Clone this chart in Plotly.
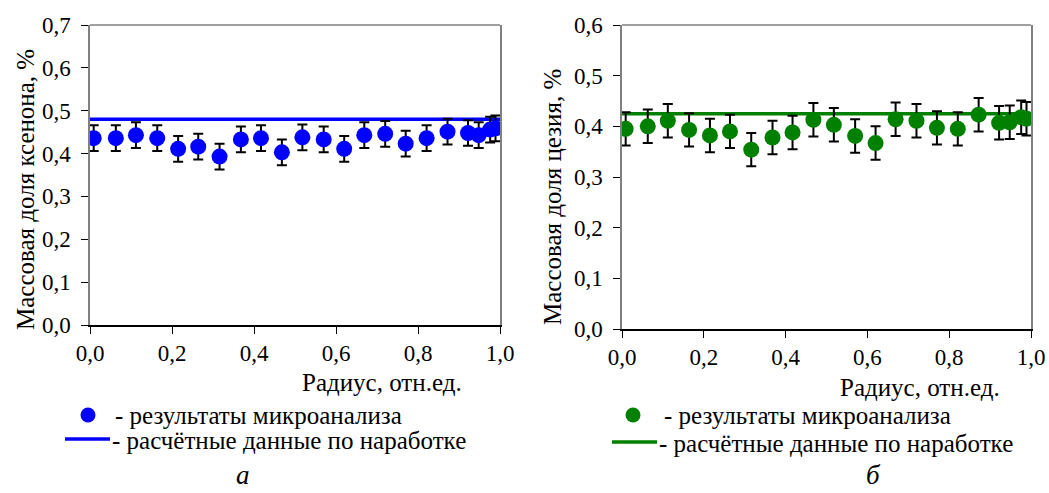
import plotly.graph_objects as go

# Radial positions of the measurement points (relative radius)
radius = [0.009, 0.063, 0.112, 0.164, 0.215, 0.264, 0.316, 0.368, 0.417, 0.468, 0.518,
          0.570, 0.620, 0.669, 0.720, 0.770, 0.821, 0.872, 0.922, 0.948, 0.976, 0.989]

# Xenon mass fraction, %
xenon_measured = [0.436, 0.436, 0.443, 0.436, 0.411, 0.416, 0.393, 0.433, 0.436, 0.403, 0.438,
                  0.433, 0.411, 0.443, 0.446, 0.423, 0.436, 0.451, 0.448, 0.443, 0.456, 0.459]
xenon_error = 0.03
xenon_calc = 0.48

# Caesium mass fraction, %
cesium_measured = [0.395, 0.400, 0.411, 0.393, 0.382, 0.390, 0.354, 0.378, 0.388, 0.413, 0.403,
                   0.381, 0.367, 0.414, 0.411, 0.397, 0.395, 0.423, 0.407, 0.408, 0.418, 0.415]
cesium_error = 0.033
cesium_calc = 0.425

calc_x = [0.0, 1.0]

W, H = 1049, 493
FONT = "Liberation Serif"
BLUE = "#0000FF"
GREEN = "#008000"
FRAME = "#808080"


def px(x):
    return x / W


def py(y):
    return 1 - y / H


fig = go.Figure()

# Panel a: xenon
fig.add_trace(go.Scatter(x=calc_x, y=[xenon_calc, xenon_calc], mode="lines",
                         line=dict(color=BLUE, width=3.5), xaxis="x", yaxis="y",
                         showlegend=False, hoverinfo="skip"))
fig.add_trace(go.Scatter(x=radius, y=xenon_measured, mode="markers",
                         marker=dict(color=BLUE, size=16),
                         error_y=dict(type="constant", value=xenon_error, color="black",
                                      thickness=2, width=5),
                         xaxis="x", yaxis="y", showlegend=False))

# Panel б: caesium
fig.add_trace(go.Scatter(x=calc_x, y=[cesium_calc, cesium_calc], mode="lines",
                         line=dict(color=GREEN, width=3.5), xaxis="x2", yaxis="y2",
                         showlegend=False, hoverinfo="skip"))
fig.add_trace(go.Scatter(x=radius, y=cesium_measured, mode="markers",
                         marker=dict(color=GREEN, size=16),
                         error_y=dict(type="constant", value=cesium_error, color="black",
                                      thickness=2, width=5),
                         xaxis="x2", yaxis="y2", showlegend=False))

tick_font = dict(family=FONT, size=23, color="black")

xaxis_common = dict(range=[0, 1], dtick=0.2, tickformat=".1f", showgrid=False, zeroline=False,
                    showline=True, linecolor="black", linewidth=1.5, ticks="outside",
                    ticklen=7, tickcolor="black", tickwidth=1.2, tickfont=tick_font,
                    automargin=False, fixedrange=True)
yaxis_common = dict(dtick=0.1, tickformat=".1f", showgrid=False, zeroline=False,
                    showline=True, linecolor=FRAME, linewidth=1.5, mirror=True,
                    ticks="outside", ticklen=7, tickcolor="black", tickwidth=1.2,
                    tickfont=tick_font, ticklabelstandoff=6, automargin=False,
                    fixedrange=True)

fig.update_layout(
    width=W, height=H, autosize=False,
    margin=dict(l=0, r=0, t=0, b=0, pad=0, autoexpand=False),
    paper_bgcolor="white", plot_bgcolor="white",
    separators=", ",
    showlegend=False,
    font=dict(family=FONT, color="black"),
    xaxis=dict(domain=[px(90), px(500)], anchor="y", **xaxis_common),
    yaxis=dict(domain=[py(325), py(25)], anchor="x", range=[0, 0.7], **yaxis_common),
    xaxis2=dict(domain=[px(622), px(1031)], anchor="y2", **xaxis_common),
    yaxis2=dict(domain=[py(329), py(25)], anchor="x2", range=[0, 0.6], **yaxis_common),
)

# Grey top border of each panel
for xr, yr in (("x domain", "y domain"), ("x2 domain", "y2 domain")):
    fig.add_shape(type="line", xref=xr, yref=yr, x0=0, x1=1, y0=1, y1=1,
                  line=dict(color=FRAME, width=1.5))


def label(x, y, text, size=25, angle=0, xanchor="center", yanchor="middle", italic=False):
    t = f"<i>{text}</i>" if italic else text
    fig.add_annotation(x=px(x), y=py(y), xref="paper", yref="paper", text=t,
                       showarrow=False, textangle=angle, xanchor=xanchor, yanchor=yanchor,
                       font=dict(family=FONT, size=size, color="black"))


# Axis titles
label(25, 190, "Массовая доля ксенона, %", angle=-90)
label(552, 197, "Массовая доля цезия, %", angle=-90)
label(382, 382, "Радиус, отн.ед.")
label(920, 387, "Радиус, отн.ед.")

# Legends
for cx, color, tx, lx0, lx1, ly in ((88, BLUE, 113, 65, 110, 439),
                                    (633, GREEN, 662, 612, 657, 442)):
    r = 7.5
    fig.add_shape(type="circle", xref="paper", yref="paper",
                  x0=px(cx - r), x1=px(cx + r), y0=py(415 + r), y1=py(415 - r),
                  fillcolor=color, line=dict(color=color, width=0))
    fig.add_shape(type="line", xref="paper", yref="paper",
                  x0=px(lx0), x1=px(lx1), y0=py(ly), y1=py(ly),
                  line=dict(color=color, width=3.5))
    label(tx, 415, "- результаты микроанализа", xanchor="left")
    label(lx1, ly + 1, "- расчётные данные по наработке", xanchor="left")

# Panel letters
label(243, 492, "а", size=27, yanchor="bottom", italic=True)
label(873, 492, "б", size=27, yanchor="bottom", italic=True)

fig.write_html("out.html")
